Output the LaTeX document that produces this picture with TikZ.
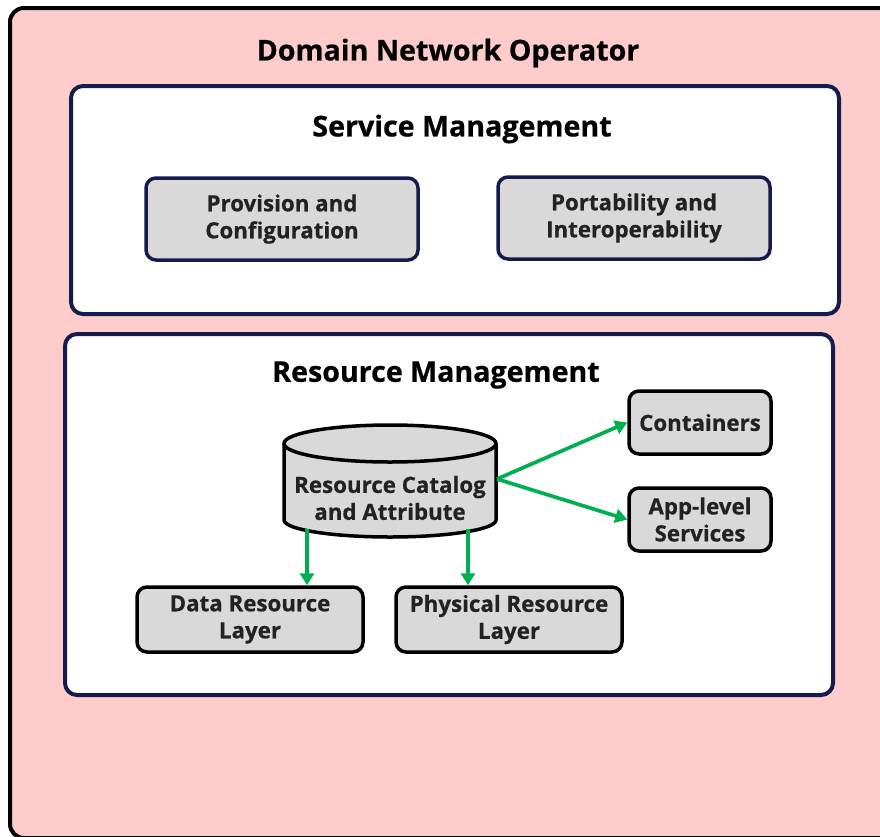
\documentclass[tikz,border=0pt]{standalone}
\usepackage{fontspec}
\setmainfont{Open Sans}[BoldFeatures={FakeBold=0.6}]
\usetikzlibrary{arrows.meta}
\definecolor{pinkbg}{HTML}{FFCCCC}
\definecolor{boxgray}{HTML}{D9D9D9}
\definecolor{navy}{HTML}{141B4D}
\definecolor{arrowgreen}{HTML}{00B050}
\definecolor{txt}{HTML}{222222}
\tikzset{
  panel/.style={draw=navy, fill=white, line width=4pt, rounded corners=12pt},
  boxtext/.style={align=center, text=txt, font=\fontsize{22.3}{27}\selectfont\bfseries, inner sep=0pt},
  svcbox/.style={boxtext, draw=navy, fill=boxgray, line width=3.5pt, rounded corners=10pt},
  resbox/.style={boxtext, draw=black, fill=boxgray, line width=3.5pt, rounded corners=10pt},
  heading/.style={font=\fontsize{28.6}{34}\selectfont\bfseries, text=black},
  flow/.style={draw=arrowgreen, line width=3.7pt, -{Triangle[length=12pt,width=14pt]}}
}
\begin{document}
\begin{tikzpicture}[x=1pt, y=-1pt]
\useasboundingbox (0,0) rectangle (880,836);
% outer operator frame, running past the right and bottom edges
\begin{scope}
  \clip (0,0) rectangle (880,836);
  \draw[fill=pinkbg, line width=4pt, rounded corners=14pt] (10,8) rectangle (910,838);
\end{scope}
\node[heading] (dno) at (448,53) {Domain Network Operator};

% service management panel
\node[panel, minimum width=768pt, minimum height=228pt] (svc) at (455,200) {};
\node[heading] (svctitle) at (462,129) {Service Management};
\node[svcbox, minimum width=272pt, minimum height=82pt] (prov) at (282,219) {Provision and\\Configuration};
\node[svcbox, minimum width=272pt, minimum height=82pt] (port) at (634,218) {Portability and\\Interoperability};

% resource management panel
\node[panel, minimum width=768pt, minimum height=361pt] (res) at (449,514.5) {};
\node[heading] (restitle) at (436,375) {Resource Management};

% resource catalog cylinder (y axis points down here)
\draw[fill=boxgray, line width=3.5pt]
  (284,443.5) -- (284,520) arc[start angle=180, end angle=0, x radius=106, y radius=17]
  -- (496,443.5) arc[start angle=0, end angle=-180, x radius=106, y radius=18.5] -- cycle;
\draw[line width=3.5pt] (284,443.5) arc[start angle=180, end angle=0, x radius=106, y radius=18.5];
\node[boxtext] (cat) at (390,498) {Resource Catalog\\and Attribute};
\coordinate (catR) at (497,479);
\coordinate (catL) at (307,529);
\coordinate (catM) at (468,529);

\node[resbox, minimum width=142pt, minimum height=63pt] (cont) at (700,422.5) {Containers};
\node[resbox, minimum width=142pt, minimum height=63pt] (app) at (700,519.5) {App-level\\Services};
\node[resbox, minimum width=226pt, minimum height=65pt] (data) at (250,619.5) {Data Resource\\Layer};
\node[resbox, minimum width=226pt, minimum height=65pt] (phys) at (509,619.5) {Physical Resource\\Layer};

% connectors
\draw[flow] (catR) -- (cont.west);
\draw[flow] (catR) -- (app.west);
\draw[flow] (catL) -- (catL |- data.north);
\draw[flow] (catM) -- (catM |- phys.north);
\end{tikzpicture}
\end{document}
